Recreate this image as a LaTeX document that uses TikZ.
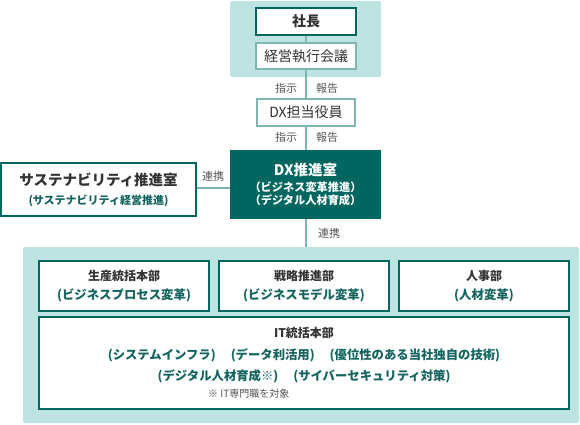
\documentclass[tikz,border=0pt]{standalone}
\usepackage{fontspec}
\setmainfont{Noto Sans CJK JP}
\usetikzlibrary{backgrounds}
\definecolor{dk}{RGB}{0,102,96}
\definecolor{lt}{RGB}{189,227,226}
\definecolor{ln}{RGB}{125,182,179}
\definecolor{tx}{RGB}{51,51,51}
\definecolor{subc}{RGB}{20,100,95}
\definecolor{gr}{RGB}{85,85,85}
\newcommand\subt[1]{{\color{subc}\bfseries #1}}
\tikzset{
  band/.style={fill=lt, draw=none, rounded corners=2pt},
  darkbox/.style={draw=dk, line width=2.4pt, fill=white, inner sep=0pt, outer sep=0pt, align=center, text=tx},
  lightbox/.style={draw=ln, line width=2pt, fill=white, inner sep=0pt, outer sep=0pt, align=center, text=tx},
  conn/.style={draw=ln, line width=2pt},
  lbl/.style={text=gr, inner sep=0pt, font=\fontsize{11}{13}\selectfont},
}
\begin{document}
\begin{tikzpicture}[x=1pt,y=-1pt]
\useasboundingbox (0,0) rectangle (580,424);
\node[darkbox, minimum width=100pt, minimum height=27pt, font=\fontsize{14}{16}\selectfont\bfseries] (ceo) at (306,21.5) {社長};
\node[lightbox, minimum width=100pt, minimum height=26pt, font=\fontsize{14}{16}\selectfont] (exec) at (306,56) {経営執行会議};
\node[lightbox, minimum width=98pt, minimum height=27pt, font=\fontsize{14}{16}\selectfont] (dxo) at (306,112.5) {DX担当役員};
\node[fill=dk, draw=none, minimum width=151pt, minimum height=69pt, inner sep=0pt, outer sep=0pt, align=center, text=white,
      font=\fontsize{11.2}{13}\selectfont\bfseries] (dx) at (305.5,184.5)
  {{\fontsize{14.5}{16}\selectfont DX推進室}\\[3.5pt]（ビジネス変革推進）\\（デジタル人材育成）};
\node[darkbox, minimum width=195pt, minimum height=53pt, font=\fontsize{11}{18.7}\selectfont] (sus) at (98.5,189.5)
  {{\fontsize{14.5}{16}\selectfont\bfseries サステナビリティ推進室}\\\subt{(サステナビリティ経営推進)}};
% labels
\node[lbl] (i1) at (286,88) {指示};
\node[lbl] (r1) at (327,88) {報告};
\node[lbl] (i2) at (286,137) {指示};
\node[lbl] (r2) at (327,137) {報告};
\node[lbl] (c1) at (213,176) {連携};
\node[lbl] (c2) at (329,233) {連携};
% bottom boxes
\node[darkbox, minimum width=170pt, minimum height=50pt, font=\fontsize{12.4}{19}\selectfont] (b1) at (124,286)
  {{\fontsize{12}{19}\selectfont\bfseries 生産統括本部}\\\subt{(ビジネスプロセス変革)}};
\node[darkbox, minimum width=170pt, minimum height=50pt, font=\fontsize{12.4}{19}\selectfont] (b2) at (304,286)
  {{\fontsize{12}{19}\selectfont\bfseries 戦略推進部}\\\subt{(ビジネスモデル変革)}};
\node[darkbox, minimum width=170pt, minimum height=50pt, font=\fontsize{12.4}{19}\selectfont] (b3) at (484,286)
  {{\fontsize{12}{19}\selectfont\bfseries 人事部}\\\subt{(人材変革)}};
\node[darkbox, minimum width=530pt, minimum height=92pt] (it) at (304,363) {};
\node[align=center, text=tx, inner sep=0pt, font=\fontsize{12.35}{21.5}\selectfont] (itt) at (304,355.5)
  {{\fontsize{12}{19}\selectfont\bfseries IT統括本部}\\\subt{(システムインフラ)\hspace{15pt}(データ利活用)\hspace{15pt}(優位性のある当社独自の技術)}\\
   \subt{(デジタル人材育成※)\hspace{15pt}(サイバーセキュリティ対策)}};
\node[anchor=west, text=gr, inner sep=0pt, font=\fontsize{10}{12}\selectfont] (note) at (208,394) {※ IT専門職を対象};
\coordinate (yline) at (0,188);
\coordinate (bandtop) at (306,247);
\begin{scope}[on background layer]
\fill[band] (230,1) rectangle (381,77);
\fill[band] (23,247) rectangle (579,423);
\draw[conn] (ceo) -- (exec);
\draw[conn] (exec) -- (dxo);
\draw[conn] (dxo) -- (dx.north -| dxo);
\draw[conn] (dx.south -| bandtop) -- (bandtop);
\draw[conn] (sus.east |- yline) -- (dx.west |- yline);
\end{scope}
\end{tikzpicture}
\end{document}
